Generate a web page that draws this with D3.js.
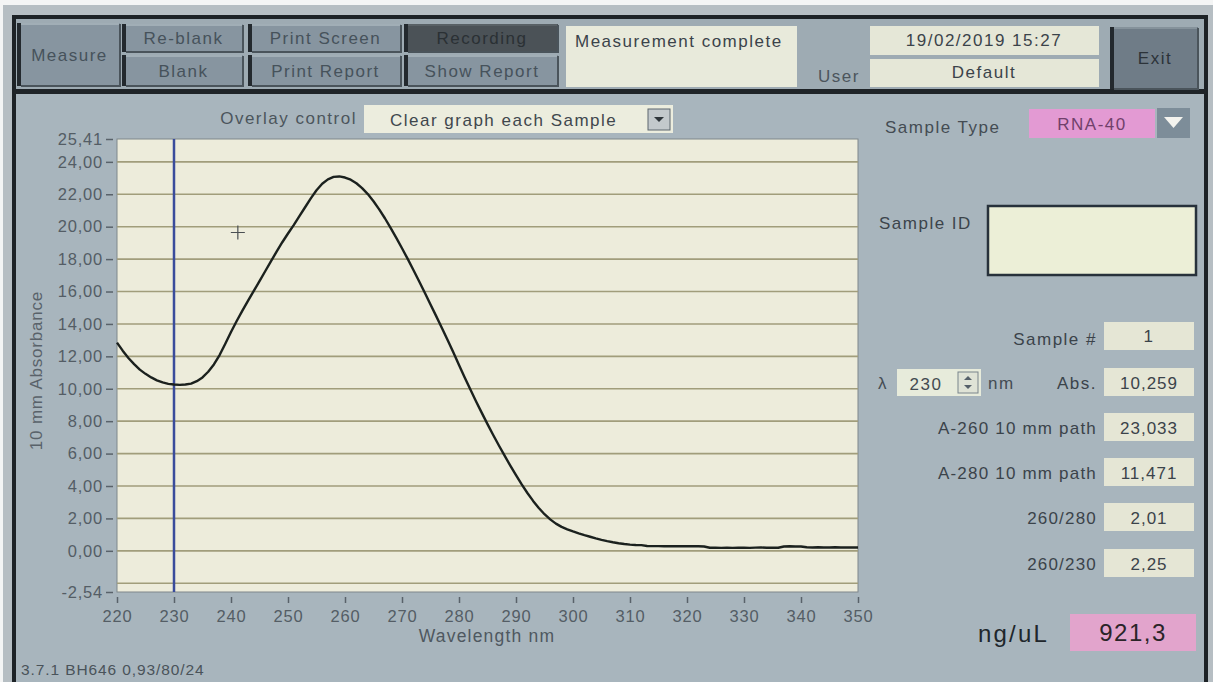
<!DOCTYPE html>
<html>
<head>
<meta charset="utf-8">
<script src="https://cdn.jsdelivr.net/npm/d3@7"></script>
<style>
  html, body { margin: 0; padding: 0; background: #f4f5f5; }
  svg { display: block; font-family: "Liberation Sans", Arial, sans-serif; }
</style>
</head>
<body>
<svg id="screen" width="1213" height="682"></svg>
<script>
// ---- Spectrum: wavelength (nm) and absorbance (10 mm path) ----
const wavelengths = d3.range(220, 351);
const absorbance = [
  12.85, 12.35, 11.90, 11.52, 11.18, 10.92, 10.70, 10.52, 10.39, 10.30,   // 220-229
  10.259, 10.24, 10.26, 10.32, 10.47, 10.70, 11.05, 11.50, 12.08, 12.78,  // 230-239
  13.50, 14.18, 14.82, 15.44, 16.04, 16.64, 17.25, 17.86, 18.46, 19.04,   // 240-249
  19.58, 20.10, 20.65, 21.20, 21.75, 22.25, 22.65, 22.92, 23.07, 23.10,   // 250-259
  23.033, 22.90, 22.68, 22.38, 22.01, 21.57, 21.07, 20.52, 19.93, 19.31,  // 260-269
  18.67, 18.01, 17.33, 16.63, 15.92, 15.20, 14.48, 13.75, 13.01, 12.25,   // 270-279
  11.471, 10.70, 9.95, 9.22, 8.51, 7.82, 7.15, 6.50, 5.87, 5.26,          // 280-289
  4.67, 4.10, 3.57, 3.08, 2.64, 2.26, 1.94, 1.68, 1.48, 1.33,             // 290-299
  1.20, 1.08, 0.97, 0.87, 0.77, 0.68, 0.60, 0.53, 0.47, 0.42,             // 300-309
  0.38, 0.36, 0.35, 0.30, 0.29, 0.29, 0.28, 0.28, 0.28, 0.29,             // 310-319
  0.28, 0.28, 0.28, 0.27, 0.19, 0.19, 0.18, 0.19, 0.18, 0.19,             // 320-329
  0.19, 0.18, 0.20, 0.21, 0.19, 0.20, 0.19, 0.27, 0.28, 0.27,             // 330-339
  0.27, 0.22, 0.21, 0.22, 0.21, 0.21, 0.22, 0.21, 0.21, 0.21,             // 340-349
  0.21                                                                    // 350
];

// ---- Axes ----
const yDomain = [-2.54, 25.41];
const yTickValues = [-2.54, 0, 2, 4, 6, 8, 10, 12, 14, 16, 18, 20, 22, 24, 25.41];
const gridValues = [-2, 0, 2, 4, 6, 8, 10, 12, 14, 16, 18, 20, 22, 24];
const xTickValues = [220, 230, 240, 250, 260, 270, 280, 290, 300, 310, 320, 330, 340, 350];

// ---- Cursor, marker and sample settings ----
const cursorNm = 230;
const crossMarkNm = 241.2;
const crossMarkAbs = 19.64;
const sampleNumber = 1;
const sampleType = "RNA-40";
const rnaFactor = 40;            // ng/uL per absorbance unit for RNA-40
const timestamp = "19/02/2019 15:27";
const userName = "Default";
const statusText = "Measurement complete";
const versionText = "3.7.1 BH646 0,93/80/24";

// European number formatting (decimal comma)
const loc = d3.formatLocale({ decimal: ",", thousands: ".", grouping: [3], currency: ["", ""], minus: "-" });
const f2 = loc.format(".2f"), f3 = loc.format(".3f"), f1 = loc.format(".1f");

const absAt = nm => absorbance[wavelengths.indexOf(nm)];
const a230 = absAt(230), a260 = absAt(260), a280 = absAt(280);
const readouts = [
  { label: "A-260 10 mm path", value: f3(a260), y: 413 },
  { label: "A-280 10 mm path", value: f3(a280), y: 458 },
  { label: "260/280",          value: f2(a260 / a280), y: 503 },
  { label: "260/230",          value: f2(a260 / a230), y: 549 }
];

const svg = d3.select("#screen");
const FS = 17, LS = 1.5;
const INK = "#3b434a";

function label(parent, x, y, str, o = {}) {
  return parent.append("text")
    .attr("x", x).attr("y", y)
    .attr("font-size", o.size || FS)
    .attr("letter-spacing", o.ls != null ? o.ls : LS)
    .attr("text-anchor", o.anchor || "start")
    .attr("fill", o.fill || INK)
    .text(str);
}

function box(parent, x, y, w, h, fill, stroke) {
  return parent.append("rect").attr("x", x).attr("y", y).attr("width", w).attr("height", h)
    .attr("fill", fill).attr("stroke", stroke || "none");
}

function button(x, y, w, h, text, o = {}) {
  const g = svg.append("g");
  box(g, x, y, w, h, o.fill || "#8795a0");
  g.append("path").attr("d", `M${x + 1},${y + h - 1}V${y + 1}H${x + w - 1}`)
    .attr("fill", "none").attr("stroke", o.light || "#aab6bd").attr("stroke-width", 1.5);
  g.append("path").attr("d", `M${x},${y}V${y + h}`)
    .attr("fill", "none").attr("stroke", "#23292e").attr("stroke-width", 4);
  g.append("path").attr("d", `M${x + w},${y + 1}V${y + h}H${x + 2}`)
    .attr("fill", "none").attr("stroke", "#4a545b").attr("stroke-width", 2);
  label(g, x + w / 2, y + h / 2 + 6, text, { anchor: "middle", fill: o.ink || "#46525b" });
}

// ---- Window frame ----
svg.append("rect").attr("x", 3).attr("y", 5).attr("width", 1210).attr("height", 677).attr("fill", "#b6bec3");
svg.append("rect").attr("x", 14).attr("y", 17).attr("width", 1192).attr("height", 670)
  .attr("fill", "#a8b5bd").attr("stroke", "#1d2226").attr("stroke-width", 4);
svg.append("rect").attr("x", 16).attr("y", 19).attr("width", 1188).attr("height", 71).attr("fill", "#9eabb3");
svg.append("rect").attr("x", 14).attr("y", 89).attr("width", 1192).attr("height", 5).attr("fill", "#1f2428");

// ---- Toolbar ----
button(19, 23, 101, 63, "Measure");
button(124, 24, 119, 28, "Re-blank");
button(124, 55, 119, 31, "Blank");
button(250, 24, 151, 28, "Print Screen");
button(250, 55, 151, 31, "Print Report");
button(406, 24, 152, 28, "Recording", { fill: "#4b5257", light: "#5f676c", ink: "#2a3034" });
button(406, 55, 152, 31, "Show Report");

box(svg, 566, 26, 231, 61, "#e8eadb");
label(svg, 575, 47, statusText);
label(svg, 818, 82, "User", { fill: "#4c555c" });
box(svg, 870, 26, 229, 29, "#e5e7d7");
label(svg, 984, 46, timestamp, { anchor: "middle" });
box(svg, 870, 59, 229, 28, "#e5e7d7");
label(svg, 984, 78, userName, { anchor: "middle" });
button(1112, 27, 86, 62, "Exit", { fill: "#6f7c87", light: "#8d99a2", ink: "#2c3339" });

// ---- Overlay control ----
label(svg, 357, 124, "Overlay control", { anchor: "end", fill: "#4c555c" });
box(svg, 364, 105, 309, 28, "#ecedde");
label(svg, 390, 126, "Clear graph each Sample", { fill: "#3f474d" });
box(svg, 648, 109, 22, 21, "#c3c9cc", "#5d676e");
svg.append("path").attr("d", "M654,117h10l-5,5z").attr("fill", "#2f363b");

// ---- Chart ----
const plot = { left: 117, right: 858, top: 139, bottom: 592 };
const x = d3.scaleLinear().domain([220, 350]).range([plot.left, plot.right]);
const y = d3.scaleLinear().domain(yDomain).range([plot.bottom, plot.top]);

const chart = svg.append("g");
chart.append("rect")
  .attr("x", plot.left).attr("y", plot.top)
  .attr("width", plot.right - plot.left).attr("height", plot.bottom - plot.top)
  .attr("fill", "#edecdb").attr("stroke", "#7f878b").attr("stroke-width", 1);

chart.append("g").selectAll("line").data(gridValues).join("line")
  .attr("x1", plot.left).attr("x2", plot.right)
  .attr("y1", d => y(d)).attr("y2", d => y(d))
  .attr("stroke", "#a19d7b").attr("stroke-width", 1.6);

const yAxis = chart.append("g").attr("transform", `translate(${plot.left - 4},0)`)
  .call(d3.axisLeft(y).tickValues(yTickValues).tickFormat(f2).tickSize(7).tickPadding(3));
const xAxis = chart.append("g").attr("transform", `translate(0,${plot.bottom + 5})`)
  .call(d3.axisBottom(x).tickValues(xTickValues).tickFormat(d3.format("d")).tickSize(6).tickPadding(7));
[yAxis, xAxis].forEach(a => {
  a.select(".domain").remove();
  a.selectAll(".tick line").attr("stroke", "#59626a").attr("stroke-width", 1.5);
  a.selectAll(".tick text").attr("fill", "#545d65").attr("font-size", 16.5)
    .attr("letter-spacing", 0.8).attr("font-family", "Liberation Sans, Arial, sans-serif");
});

// Cursor at the selected wavelength
chart.append("line")
  .attr("x1", x(cursorNm)).attr("x2", x(cursorNm))
  .attr("y1", plot.top).attr("y2", plot.bottom)
  .attr("stroke", "#3a4c9c").attr("stroke-width", 2.5);

// Absorbance spectrum
const line = d3.line().x((d, i) => x(wavelengths[i])).y(d => y(d));
chart.append("path").datum(absorbance)
  .attr("d", line)
  .attr("fill", "none").attr("stroke", "#1b211e").attr("stroke-width", 2.4)
  .attr("stroke-linejoin", "round");

// Crosshair marker
const cx = x(crossMarkNm), cy = y(crossMarkAbs);
chart.append("path").attr("d", `M${cx - 7},${cy}H${cx + 7}M${cx},${cy - 7}V${cy + 7}`)
  .attr("stroke", "#4a4f52").attr("stroke-width", 1.2);

// Axis titles
label(svg, 0, 0, "10 mm Absorbance", { anchor: "middle", fill: "#59626a", ls: 0.8 })
  .attr("transform", `translate(42,${(plot.top + plot.bottom) / 2 + 5}) rotate(-90)`);
label(svg, 487, 642, "Wavelength nm", { anchor: "middle", fill: "#4f5860", size: 17.5, ls: 1.2 });

// ---- Sample panel ----
label(svg, 885, 133, "Sample Type", { fill: "#444c53" });
box(svg, 1029, 109, 126, 29, "#e39ad3");
label(svg, 1092, 130, sampleType, { anchor: "middle", fill: "#70406a" });
box(svg, 1157, 108, 33, 30, "#7d8d99");
svg.append("path").attr("d", "M1164,117h19l-9.5,11z").attr("fill", "#f3f3ee");

label(svg, 879, 229, "Sample ID", { fill: "#3c444b" });
box(svg, 988, 206, 208, 69, "#ecefd7", "#27313b").attr("stroke-width", 2.5);

label(svg, 1097, 345, "Sample #", { anchor: "end" });
box(svg, 1104, 322, 90, 28, "#e5e6d5");
label(svg, 1149, 342, String(sampleNumber), { anchor: "middle" });

label(svg, 878, 389, "\u03bb", { fill: "#444c53" });
box(svg, 897, 369, 84, 27, "#e7ebdb");
label(svg, 926, 390, String(cursorNm), { anchor: "middle", fill: "#434a50" });
box(svg, 958, 372, 20, 21, "#dfe3d6", "#7a858c");
svg.append("path").attr("d", "M964,380l4,-4l4,4zM964,385l4,4l4,-4z").attr("fill", "#556069");
label(svg, 988, 389, "nm", { fill: "#444c53" });
label(svg, 1097, 389, "Abs.", { anchor: "end" });
box(svg, 1104, 368, 90, 28, "#e5e6d5");
label(svg, 1149, 389, f3(a230), { anchor: "middle", ls: 1 });

readouts.forEach(r => {
  label(svg, 1097, r.y + 21, r.label, { anchor: "end", ls: 1.2 });
  box(svg, 1104, r.y, 90, 28, "#e5e6d5");
  label(svg, 1149, r.y + 21, r.value, { anchor: "middle", ls: 1 });
});

label(svg, 978, 642, "ng/uL", { size: 24, ls: 2.2, fill: "#20262b" });
box(svg, 1070, 614, 126, 37, "#e2a4cc");
label(svg, 1133, 641, f1(a260 * rnaFactor), { anchor: "middle", size: 24, ls: 1.5, fill: "#2a2428" });

label(svg, 21, 675, versionText, { size: 15.5, ls: 0.9, fill: "#4a535a" });
</script>
</body>
</html>
